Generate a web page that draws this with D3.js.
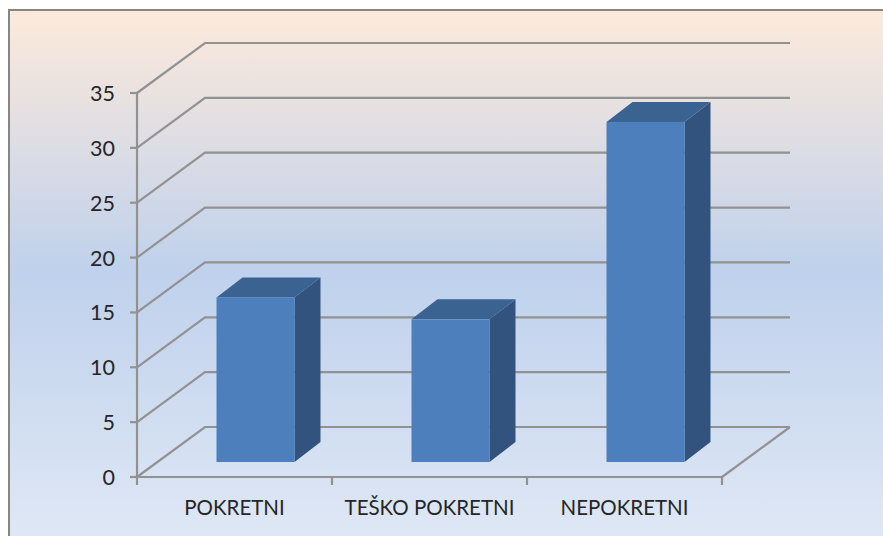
<!DOCTYPE html>
<html>
<head>
<meta charset="utf-8">
<script src="https://cdn.jsdelivr.net/npm/d3@7"></script>
<style>
  html, body { margin: 0; padding: 0; background: #fff; }
  svg { display: block; }
  text { font-family: Lato, "Open Sans", sans-serif; fill: #262626; }
</style>
</head>
<body>
<div id="chart"></div>
<script>
var categories = ["POKRETNI", "TEŠKO POKRETNI", "NEPOKRETNI"];
var values = [15, 13, 31];
var yTicks = [0, 5, 10, 15, 20, 25, 30, 35];

var width = 883, height = 536;
var x0 = 137, x1 = 722, y0 = 477, y1 = 93;
// how far the back wall sits behind the front plane
var depthX = 68, depthY = -50;
// bars stand in the middle of the floor
var barInX = 21, barInY = -15, barDepthX = 26, barDepthY = -20;

var svg = d3.select("#chart").append("svg")
    .attr("width", width)
    .attr("height", height);

var defs = svg.append("defs");
var bg = defs.append("linearGradient").attr("id", "bg")
    .attr("x1", 0).attr("y1", 0).attr("x2", 0).attr("y2", 1);
bg.append("stop").attr("offset", "0%").attr("stop-color", "#fdeadb");
bg.append("stop").attr("offset", "48%").attr("stop-color", "#bfd1ec");
bg.append("stop").attr("offset", "100%").attr("stop-color", "#e1e9f6");

var soft = defs.append("filter").attr("id", "soft")
    .attr("x", "-5%").attr("y", "-5%").attr("width", "110%").attr("height", "110%");
soft.append("feGaussianBlur").attr("stdDeviation", 0.4);

svg.append("rect")
    .attr("x", 9).attr("y", 10)
    .attr("width", width + 10).attr("height", height + 10)
    .attr("fill", "url(#bg)")
    .attr("stroke", "#868686")
    .attr("stroke-width", 2);

var x = d3.scaleBand().domain(categories).range([x0, x1]).paddingInner(0.6).paddingOuter(0.3);
var xEdge = d3.scaleLinear().domain([0, categories.length]).range([x0, x1]);
var y = d3.scaleLinear().domain([0, 35]).range([y0, y1]);

var lineColor = "#929292";
var lineWidth = 2.2;
var g = svg.append("g").attr("filter", "url(#soft)");

// back wall and side wall gridlines
g.selectAll("path.grid")
    .data(yTicks)
    .enter().append("path")
    .attr("class", "grid")
    .attr("fill", "none")
    .attr("stroke", lineColor)
    .attr("stroke-width", lineWidth)
    .attr("d", function(d) {
      return "M" + x0 + "," + y(d) +
        "L" + (x0 + depthX) + "," + (y(d) + depthY) +
        "L" + (x1 + depthX) + "," + (y(d) + depthY);
    });

// floor
g.append("path")
    .attr("fill", "none")
    .attr("stroke", lineColor)
    .attr("stroke-width", lineWidth)
    .attr("d", "M" + x1 + "," + y(0) + "L" + (x1 + depthX) + "," + (y(0) + depthY));

// axes
g.append("line")
    .attr("x1", x0).attr("x2", x0)
    .attr("y1", y(0)).attr("y2", y(35))
    .attr("stroke", lineColor).attr("stroke-width", lineWidth);
g.append("line")
    .attr("x1", x0).attr("x2", x1)
    .attr("y1", y(0)).attr("y2", y(0))
    .attr("stroke", lineColor).attr("stroke-width", lineWidth);

g.selectAll("line.ytick")
    .data(yTicks)
    .enter().append("line")
    .attr("class", "ytick")
    .attr("x1", x0 - 7).attr("x2", x0)
    .attr("y1", function(d) { return y(d); })
    .attr("y2", function(d) { return y(d); })
    .attr("stroke", lineColor).attr("stroke-width", lineWidth);

g.selectAll("line.xtick")
    .data(d3.range(categories.length + 1))
    .enter().append("line")
    .attr("class", "xtick")
    .attr("x1", function(d) { return xEdge(d); })
    .attr("x2", function(d) { return xEdge(d); })
    .attr("y1", y0).attr("y2", y0 + 8)
    .attr("stroke", lineColor).attr("stroke-width", lineWidth);

// bars
var bars = g.selectAll("g.bar")
    .data(categories)
    .enter().append("g")
    .attr("class", "bar");

var barWidth = x.bandwidth();

function barLeft(d) { return x(d) + barInX; }
function barRight(d) { return x(d) + barInX + barWidth; }
function barTop(d, i) { return y(values[i]) + barInY; }
var barBottom = y(0) + barInY;

bars.append("path")
    .attr("fill", "#30527e")
    .attr("d", function(d, i) {
      var r = barRight(d), t = barTop(d, i);
      return "M" + r + "," + t +
        "L" + (r + barDepthX) + "," + (t + barDepthY) +
        "L" + (r + barDepthX) + "," + (barBottom + barDepthY) +
        "L" + r + "," + barBottom + "Z";
    });

bars.append("path")
    .attr("fill", "#3a6392")
    .attr("d", function(d, i) {
      var l = barLeft(d), r = barRight(d), t = barTop(d, i);
      return "M" + l + "," + t +
        "L" + (l + barDepthX) + "," + (t + barDepthY) +
        "L" + (r + barDepthX) + "," + (t + barDepthY) +
        "L" + r + "," + t + "Z";
    });

bars.append("rect")
    .attr("fill", "#4e7fbc")
    .attr("x", barLeft)
    .attr("y", barTop)
    .attr("width", barWidth)
    .attr("height", function(d, i) { return barBottom - barTop(d, i); });

// labels
svg.selectAll("text.ylab")
    .data(yTicks)
    .enter().append("text")
    .attr("class", "ylab")
    .attr("x", 115)
    .attr("y", function(d) { return y(d); })
    .attr("dy", "0.37em")
    .attr("text-anchor", "end")
    .attr("font-size", 21.5)
    .text(function(d) { return d; });

svg.selectAll("text.xlab")
    .data(categories)
    .enter().append("text")
    .attr("class", "xlab")
    .attr("x", function(d) { return x(d) + barWidth / 2; })
    .attr("y", 515)
    .attr("text-anchor", "middle")
    .attr("font-size", 20.5)
    .text(function(d) { return d; });
</script>
</body>
</html>
